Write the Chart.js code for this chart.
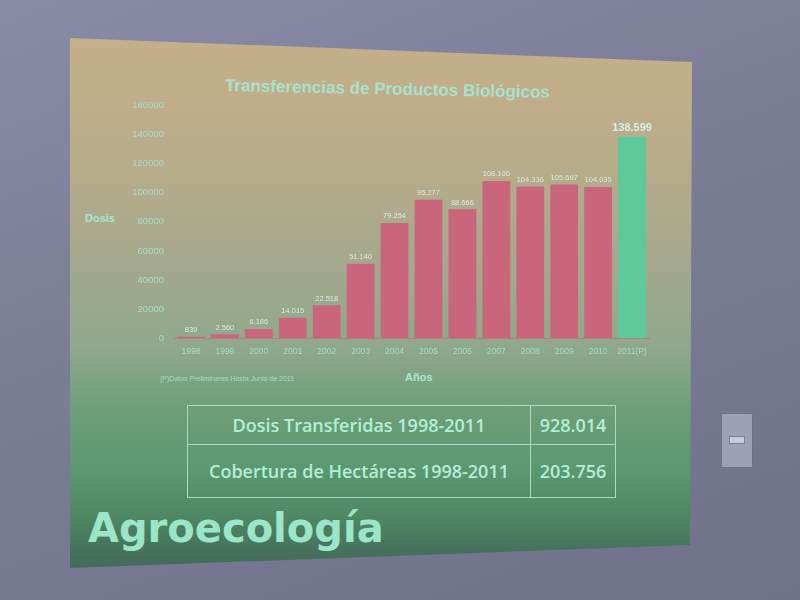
<!DOCTYPE html>
<html>
<head>
<meta charset="utf-8">
<script src="https://cdn.jsdelivr.net/npm/chart.js@4/dist/chart.umd.min.js"></script>
<style>
  html,body{margin:0;padding:0;}
  body{width:800px;height:600px;overflow:hidden;position:relative;
    background:linear-gradient(160deg,#8a8ba6 0%,#7c7e98 40%,#70728c 100%);
    font-family:"Liberation Sans",Arial,sans-serif;}
  #slide{position:absolute;left:0;top:0;width:800px;height:600px;
    clip-path:polygon(70px 38px,692px 62px,690px 545px,70px 568px);
    background:linear-gradient(180deg,#c5b08a 0%,#c2ae89 14%,#b5ab8b 30%,#a3a88d 45%,#8fa88c 58%,#6e9f78 68%,#5c9870 78%,#4f8862 86%,#46715c 92%,#405e58 100%);}
  #chartbox{position:absolute;left:100px;top:90px;width:560px;height:280px;}
  .t{position:absolute;color:#a9e6d2;white-space:nowrap;}
  #title{left:225px;top:76px;font-size:17px;font-weight:bold;transform:rotate(1.2deg);transform-origin:left center;color:#a6e2cf;}
  #ytitle{left:85px;top:212px;font-size:11px;font-weight:bold;}
  #xtitle{left:405px;top:371px;font-size:11px;font-weight:bold;}
  #note{left:160px;top:375px;font-size:7px;color:#a4dcc8;}
  #tbl{position:absolute;left:187px;top:405px;border-collapse:collapse;
    font-family:"Open Sans",Lato,sans-serif;font-weight:600;color:#b2efd8;font-size:18px;}
  #tbl td{border:1px solid #a8dcc6;height:38px;padding:0;text-align:center;}
  #tbl td.a{width:342px;}
  #tbl td.b{width:84px;}
  #tbl tr.r2 td{height:52px;}
  #brand{left:88px;top:505px;font-family:"DejaVu Sans",sans-serif;font-weight:bold;font-size:40px;
    color:#9be6c9;}
  #plate{position:absolute;left:721px;top:413px;width:30px;height:53px;background:#9ea0b6;
    border:1px solid #6e7088;border-radius:2px;}
  #plate div{position:absolute;left:7px;top:22px;width:14px;height:6px;background:#c8cadb;border:1px solid #7d7f95;}
</style>
</head>
<body>
<div id="slide"></div>
<div class="t" id="title">Transferencias de Productos Biológicos</div>
<div class="t" id="ytitle">Dosis</div>
<div id="chartbox"><canvas id="c" width="560" height="280"></canvas></div>
<div class="t" id="note">(P)Datos Preliminares Hasta Junio de 2011</div>
<div class="t" id="xtitle">Años</div>
<table id="tbl">
  <tr><td class="a">Dosis Transferidas 1998-2011</td><td class="b">928.014</td></tr>
  <tr class="r2"><td class="a">Cobertura de Hectáreas 1998-2011</td><td class="b">203.756</td></tr>
</table>
<div class="t" id="brand">Agroecología</div>
<div id="plate"><div></div></div>
<script>
const years = ["1998","1999","2000","2001","2002","2003","2004","2005","2006","2007","2008","2009","2010","2011(P)"];
const doses = [839, 2560, 6186, 14015, 22518, 51140, 79254, 95277, 88666, 108100, 104336, 105697, 104035, 138599];
const valueLabels = ["839","2.560","6.186","14.015","22.518","51.140","79.254","95.277","88.666","108.100","104.336","105.697","104.035","138.599"];
const yTicks = [0,20000,40000,60000,80000,100000,120000,140000,160000];

const barColors = years.map((y,i)=> i===years.length-1 ? "#5ec99a" : "#c9667c");

const labelPlugin = {
  id:"vlabels",
  afterDatasetsDraw(chart){
    const ctx = chart.ctx;
    const meta = chart.getDatasetMeta(0);
    ctx.save();
    ctx.textAlign="center";
    ctx.textBaseline="bottom";
    meta.data.forEach((bar,i)=>{
      const last = i===meta.data.length-1;
      ctx.font = last ? "bold 11px 'Liberation Sans', Arial" : "7.5px 'Liberation Sans', Arial";
      ctx.fillStyle = last ? "#d6efe6" : "#dbe9dc";
      ctx.fillText(valueLabels[i], bar.x, bar.y - 3);
    });
    ctx.restore();
  }
};

new Chart(document.getElementById("c"),{
  type:"bar",
  data:{labels:years,datasets:[{data:doses,backgroundColor:barColors,borderWidth:0,
    barPercentage:0.82,categoryPercentage:1}]},
  options:{
    responsive:false,animation:false,
    layout:{padding:{top:15,right:11,left:0,bottom:0}},
    plugins:{legend:{display:false},tooltip:{enabled:false}},
    scales:{
      y:{min:0,max:160000,
        afterBuildTicks(s){s.ticks = yTicks.map(v=>({value:v}));},
        afterFit(s){s.width=74;},
        grid:{display:false,drawTicks:false},
        border:{display:false},
        ticks:{color:"#a8dcc8",font:{size:9.5,family:"'Liberation Sans', Arial"},padding:10,
          callback:v=>String(v)}},
      x:{
        afterFit(s){s.height=32;},
        grid:{display:false,drawTicks:false},
        border:{display:true,color:"#b87b7e",width:1},
        ticks:{color:"#a8dcc8",font:{size:8.5,family:"'Liberation Sans', Arial"},padding:9,maxRotation:0,autoSkip:false}}
    }
  },
  plugins:[labelPlugin]
});
</script>
</body>
</html>
